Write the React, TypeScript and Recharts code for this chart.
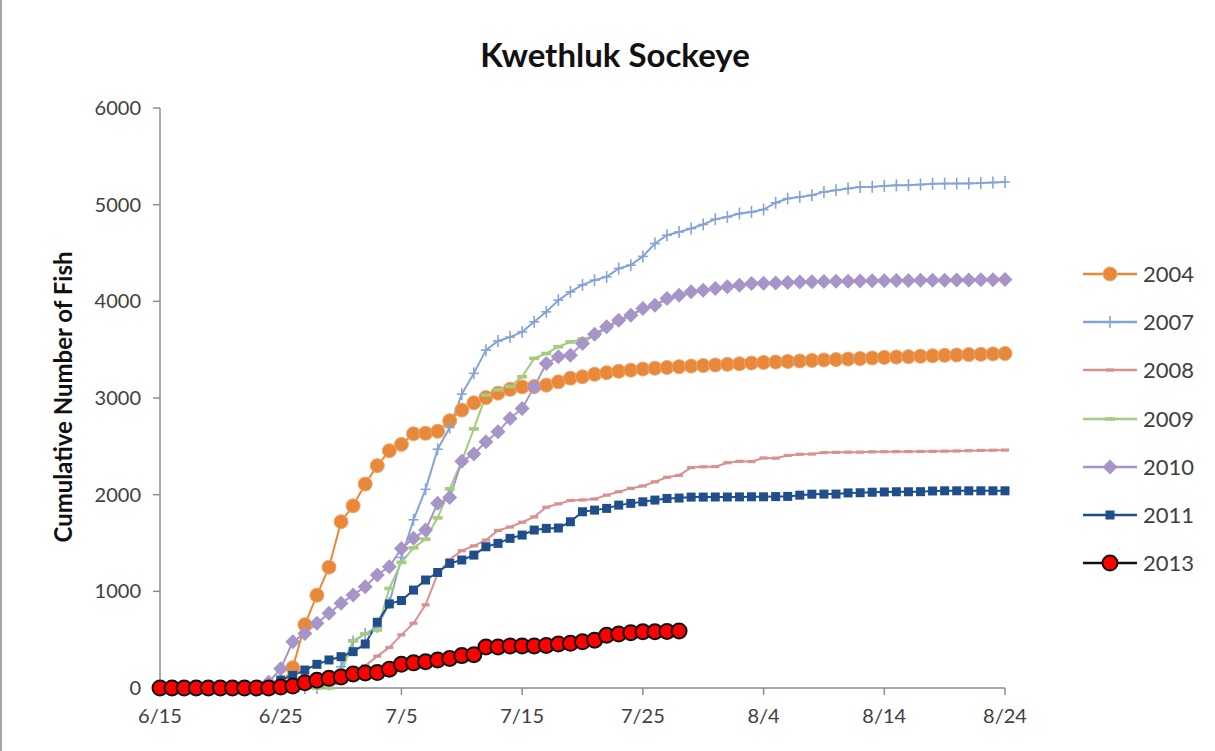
import React from "react";
import { CartesianGrid, Line, LineChart, XAxis, YAxis } from "recharts";

const FONT = "Lato, 'Open Sans', sans-serif";

const dates = [
  "6/15", "6/16", "6/17", "6/18", "6/19", "6/20", "6/21", "6/22", "6/23", "6/24",
  "6/25", "6/26", "6/27", "6/28", "6/29", "6/30", "7/1", "7/2", "7/3", "7/4",
  "7/5", "7/6", "7/7", "7/8", "7/9", "7/10", "7/11", "7/12", "7/13", "7/14",
  "7/15", "7/16", "7/17", "7/18", "7/19", "7/20", "7/21", "7/22", "7/23", "7/24",
  "7/25", "7/26", "7/27", "7/28", "7/29", "7/30", "7/31", "8/1", "8/2", "8/3",
  "8/4", "8/5", "8/6", "8/7", "8/8", "8/9", "8/10", "8/11", "8/12", "8/13",
  "8/14", "8/15", "8/16", "8/17", "8/18", "8/19", "8/20", "8/21", "8/22", "8/23",
  "8/24",
];

const yTicks = [0, 1000, 2000, 3000, 4000, 5000, 6000];

const s2004 = [
  0, 0, 0, 0, 0, 0, 0, 0, 0, 0,
  30, 210, 655, 960, 1250, 1720, 1885, 2110, 2300, 2455,
  2520, 2630, 2635, 2655, 2765, 2875, 2950, 3005, 3050, 3090,
  3115, 3118, 3133, 3167, 3205, 3220, 3245, 3262, 3276, 3288,
  3300, 3308, 3316, 3324, 3330, 3336, 3342, 3348, 3354, 3362,
  3368, 3372, 3378, 3383, 3388, 3394, 3398, 3403, 3408, 3414,
  3420, 3424, 3428, 3432, 3437, 3441, 3445, 3449, 3452, 3456,
  3460,
];

const s2007 = [
  0, 0, 0, 0, 0, 0, 0, 0, 0, 0,
  0, 0, 0, 0, 40, 220, 480, 560, 630, 880,
  1350, 1740, 2055, 2470, 2695, 3040, 3255, 3495, 3590, 3630,
  3684, 3788, 3891, 4012, 4098, 4170, 4219, 4253, 4340, 4374,
  4465, 4598, 4684, 4718, 4753, 4795, 4850, 4873, 4908, 4925,
  4950, 5020, 5063, 5080, 5098, 5132, 5149, 5167, 5183, 5185,
  5194, 5200, 5202, 5208, 5216, 5218, 5219, 5220, 5225, 5229,
  5235,
];

const s2008 = [
  0, 0, 0, 0, 0, 0, 0, 0, 0, 0,
  0, 0, 0, 0, 20, 60, 120, 230, 330, 420,
  550, 670, 860, 1180, 1330, 1420, 1470, 1530, 1630, 1665,
  1715, 1770, 1870, 1905, 1940, 1945, 1955, 1995, 2030, 2065,
  2090, 2133, 2180, 2200, 2280, 2288, 2290, 2330, 2345, 2343,
  2380, 2378, 2405, 2418, 2420, 2435, 2438, 2440, 2440, 2443,
  2444, 2445, 2446, 2447, 2448, 2450, 2452, 2455, 2458, 2460,
  2461,
];

const s2009 = [
  0, 0, 0, 0, 0, 0, 0, 0, 0, 0,
  0, 0, 0, 0, 0, 150, 490, 560, 600, 1030,
  1300, 1450, 1540, 1760, 2060, 2350, 2680, 3030, 3085, 3120,
  3220, 3410, 3460, 3530, 3580, 3610, 3640, 3720, 3795, 3850,
  3920, 3955, 4020, 4055, 4090, 4110, 4128, 4145, 4162, 4178,
  4180, 4185, 4190, 4195, 4198, 4200, 4202, 4204, 4206, 4208,
  4210, 4211, 4212, 4213, 4214, 4215, 4216, 4217, 4218, 4219,
  4220,
];

const s2010 = [
  0, 0, 0, 0, 0, 0, 0, 0, 0, 60,
  200, 479, 565, 669, 772, 876, 962, 1047, 1170, 1254,
  1444, 1548, 1634, 1910, 1970, 2345, 2420, 2547, 2650, 2789,
  2892, 3115, 3357, 3426, 3443, 3564, 3660, 3736, 3805, 3857,
  3926, 3960, 4029, 4063, 4098, 4115, 4133, 4150, 4167, 4184,
  4186, 4190, 4195, 4200, 4203, 4205, 4207, 4209, 4210, 4212,
  4214, 4215, 4216, 4217, 4218, 4219, 4220, 4221, 4222, 4223,
  4225,
];

const s2011 = [
  0, 0, 0, 0, 0, 0, 0, 0, 0, 20,
  83, 130, 186, 245, 290, 324, 376, 455, 680, 870,
  905, 1013, 1117, 1195, 1289, 1324, 1375, 1461, 1496, 1548,
  1582, 1634, 1651, 1655, 1720, 1823, 1840, 1858, 1892, 1910,
  1926, 1944, 1961, 1965, 1975, 1975, 1976, 1976, 1977, 1978,
  1978, 1980, 1982, 1995, 2005, 2006, 2006, 2018, 2020, 2025,
  2028, 2030, 2030, 2031, 2038, 2040, 2040, 2040, 2040, 2040,
  2040,
];

const s2013 = [
  0, 0, 0, 0, 0, 0, 0, 0, 0, 0,
  10, 20, 55, 80, 100, 115, 145, 155, 160, 195,
  245, 260, 272, 290, 305, 335, 345, 425, 425, 435,
  435, 435, 440, 455, 462, 478, 495, 545, 558, 572,
  582, 582, 585, 590, null, null, null, null, null, null,
  null, null, null, null, null, null, null, null, null, null,
  null, null, null, null, null, null, null, null, null, null,
  null,
];

const data = dates.map((date, i) => ({
  date,
  y2004: s2004[i],
  y2007: s2007[i],
  y2008: s2008[i],
  y2009: s2009[i],
  y2010: s2010[i],
  y2011: s2011[i],
  y2013: s2013[i],
}));

type MarkerKind = "circle" | "plus" | "dash" | "longdash" | "diamond" | "square" | "redcircle";

type SeriesDef = {
  key: string;
  name: string;
  color: string;
  width: number;
  marker: MarkerKind;
};

const series: SeriesDef[] = [
  { key: "y2004", name: "2004", color: "#E8883A", width: 2, marker: "circle" },
  { key: "y2007", name: "2007", color: "#86A3D8", width: 2, marker: "plus" },
  { key: "y2008", name: "2008", color: "#D9918F", width: 2, marker: "dash" },
  { key: "y2009", name: "2009", color: "#A3CC7E", width: 2, marker: "longdash" },
  { key: "y2010", name: "2010", color: "#A794C8", width: 2, marker: "diamond" },
  { key: "y2011", name: "2011", color: "#1F4E8A", width: 2, marker: "square" },
  { key: "y2013", name: "2013", color: "#111111", width: 2, marker: "redcircle" },
];

function Marker({ kind, cx, cy, color }: { kind: MarkerKind; cx: number; cy: number; color: string }) {
  switch (kind) {
    case "circle":
      return <circle cx={cx} cy={cy} r={7} fill={color} stroke="#F0A66A" strokeWidth={1} />;
    case "plus":
      return (
        <g stroke={color} strokeWidth={1.6}>
          <line x1={cx} y1={cy - 6} x2={cx} y2={cy + 6} />
          <line x1={cx - 5} y1={cy} x2={cx + 5} y2={cy} />
        </g>
      );
    case "dash":
      return <rect x={cx - 4} y={cy - 1.6} width={8} height={3.2} fill={color} />;
    case "longdash":
      return <rect x={cx - 5} y={cy - 1.8} width={10} height={3.6} fill={color} />;
    case "diamond":
      return (
        <path
          d={`M${cx},${cy - 7.5} L${cx + 7.5},${cy} L${cx},${cy + 7.5} L${cx - 7.5},${cy} Z`}
          fill={color}
        />
      );
    case "square":
      return <rect x={cx - 4.5} y={cy - 4.5} width={9} height={9} fill={color} />;
    case "redcircle":
      return <circle cx={cx} cy={cy} r={7.5} fill="#FF0000" stroke="#111111" strokeWidth={2} />;
  }
}

function makeDot(s: SeriesDef) {
  return (props: any) => {
    const { cx, cy, index } = props;
    if (cx == null || cy == null || props.value == null) {
      return <g key={`${s.key}-${index}`} />;
    }
    return (
      <g key={`${s.key}-${index}`}>
        <Marker kind={s.marker} cx={cx} cy={cy} color={s.color} />
      </g>
    );
  };
}

function LegendBox() {
  return (
    <div style={{ position: "absolute", left: 1080, top: 250 }}>
      {series.map((s) => (
        <div
          key={s.key}
          style={{ display: "flex", alignItems: "center", height: 48.2 }}
        >
          <svg width={56} height={20}>
            <line x1={1} y1={10} x2={55} y2={10} stroke={s.color} strokeWidth={2.5} />
            <Marker kind={s.marker} cx={28} cy={10} color={s.color} />
          </svg>
          <span
            style={{
              fontFamily: FONT,
              fontSize: 22,
              color: "#404040",
              marginLeft: 5,
              lineHeight: "22px",
            }}
          >
            {s.name}
          </span>
        </div>
      ))}
    </div>
  );
}

export default function App() {
  return (
    <div
      style={{
        position: "absolute",
        left: 0,
        top: 0,
        width: 1215,
        height: 751,
        background: "#fff",
        borderLeft: "2px solid #a6a6a6",
        boxSizing: "border-box",
        overflow: "hidden",
      }}
    >
      <div
        style={{
          position: "absolute",
          left: 0,
          top: 34,
          width: 1226,
          textAlign: "center",
          fontFamily: FONT,
          fontWeight: 700,
          fontSize: 33,
          lineHeight: "40px",
          color: "#111",
        }}
      >
        Kwethluk Sockeye
      </div>
      <div
        style={{
          position: "absolute",
          left: 60,
          top: 397,
          transform: "translate(-50%, -50%) rotate(-90deg)",
          whiteSpace: "nowrap",
          fontFamily: FONT,
          fontWeight: 700,
          fontSize: 24,
          color: "#111",
        }}
      >
        Cumulative Number of Fish
      </div>
      <div style={{ position: "absolute", left: 0, top: 0 }}>
        <LineChart
          width={1215}
          height={751}
          data={data}
          margin={{ top: 108, right: 212, bottom: 33, left: 78 }}
        >
          <CartesianGrid horizontal={false} vertical={false} />
          <XAxis
            dataKey="date"
            interval={9}
            height={30}
            tickSize={7}
            tickMargin={14}
            axisLine={{ stroke: "#8c8c8c", strokeWidth: 1.5 }}
            tickLine={{ stroke: "#8c8c8c", strokeWidth: 1.5 }}
            tick={{ fill: "#404040", fontSize: 20, fontFamily: FONT }}
          />
          <YAxis
            width={80}
            domain={[0, 6000]}
            ticks={yTicks}
            interval={0}
            tickSize={7}
            tickMargin={12}
            axisLine={{ stroke: "#8c8c8c", strokeWidth: 1.5 }}
            tickLine={{ stroke: "#8c8c8c", strokeWidth: 1.5 }}
            tick={{ fill: "#404040", fontSize: 20, fontFamily: FONT }}
          />
          {series.map((s) => (
            <Line
              key={s.key}
              type="linear"
              dataKey={s.key}
              name={s.name}
              stroke={s.color}
              strokeWidth={s.width}
              dot={makeDot(s)}
              activeDot={false}
              isAnimationActive={false}
              connectNulls={false}
            />
          ))}
        </LineChart>
      </div>
      <LegendBox />
    </div>
  );
}
